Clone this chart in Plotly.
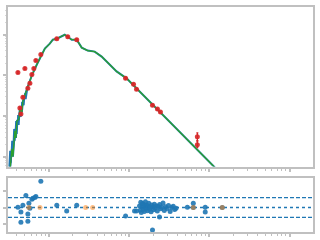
import plotly.graph_objects as go
import math

# ---------------- data ----------------
# model SED (green)
model_wl = [0.03277, 0.03471, 0.03571, 0.03781, 0.03891, 0.04005, 0.04240, 0.04362, 0.04619,
            0.04753, 0.05329, 0.06148, 0.07095, 0.08185, 0.08921, 0.1029, 0.1121, 0.1257,
            0.1410, 0.1580, 0.1722, 0.1931, 0.2227, 0.2570, 0.3051, 0.3727, 0.4553, 0.5727,
            0.6237, 0.6995, 0.9309, 14.10]
model_flux = [4.56e-13, 1.567e-12, 1.0e-12, 4.307e-12, 2.906e-12, 7.551e-12, 8.449e-12, 1.482e-11,
              1.252e-11, 2.322e-11, 4.557e-11, 1.0e-10, 1.854e-10, 3.44e-10, 4.557e-10, 6.031e-10,
              7.551e-10, 7.988e-10, 8.936e-10, 1.0e-9, 8.936e-10, 7.551e-10, 7.551e-10, 4.819e-10,
              4.072e-10, 3.849e-10, 2.906e-10, 1.854e-10, 1.658e-10, 1.252e-10, 8.449e-11, 3.76e-13]

# observed UV spectrum (blue)
uv_wl = [0.03184, 0.03277, 0.03373, 0.03471, 0.03571, 0.03675, 0.03781, 0.03891, 0.04005, 0.04120,
         0.04240, 0.04362, 0.04490, 0.04619, 0.04891, 0.05032, 0.05179, 0.05483, 0.05808]
uv_flux = [4.56e-13, 1.400e-12, 7.14e-13, 2.456e-12, 1.252e-12, 4.819e-12, 2.456e-12, 7.551e-12,
           3.639e-12, 1.058e-11, 6.031e-12, 1.658e-11, 9.454e-12, 2.196e-11, 1.854e-11, 3.639e-11,
           2.598e-11, 5.390e-11, 6.380e-11]

# photometry (red)
phot_wl = [0.04120, 0.05032, 0.06895, 0.06510, 0.07955, 0.06148, 0.05808, 0.05483, 0.04753, 0.04362,
           0.04490, 0.1257, 0.1722, 0.2227, 0.9048, 1.137, 1.239, 1.958, 2.259, 2.462, 7.094, 7.094]
phot_flux = [1.183e-10, 1.482e-10, 2.322e-10, 1.482e-10, 3.252e-10, 1.058e-10, 6.380e-11, 4.819e-11,
             2.906e-11, 1.567e-11, 1.119e-11, 7.988e-10, 8.936e-10, 7.551e-10, 8.449e-11, 6.031e-11,
             4.557e-11, 1.854e-11, 1.482e-11, 1.252e-11, 3.074e-12, 1.962e-12]
phot_err_up = [f * 0.05 for f in phot_flux[:-2]] + [0.78e-12, 0.49e-12]
phot_err_dn = [f * 0.05 for f in phot_flux[:-2]] + [0.62e-12, 0.30e-12]

# residuals (blue)
res_wl = [0.04120, 0.04490, 0.04490, 0.04753, 0.05179, 0.05483, 0.05483, 0.05645, 0.05808, 0.06148,
          0.06325, 0.06700, 0.06895, 0.07955, 0.1257, 0.1670, 0.2227, 0.9048, 1.171, 1.239, 1.958,
          2.393, 5.33, 6.32, 6.32, 8.90, 8.90, 14.5,
          1.35, 1.38, 1.40, 1.42, 1.45, 1.47, 1.50, 1.53, 1.55, 1.58, 1.60, 1.63, 1.66, 1.70, 1.73,
          1.76, 1.80, 1.84, 1.88, 1.92, 1.97, 2.02, 2.07, 2.12, 2.18, 2.25, 2.32, 2.40, 2.48, 2.56,
          2.65, 2.75, 2.85, 2.97, 3.10, 3.25, 3.40, 3.55, 3.70, 3.85]
res_val = [0.1, -1.4, -4.5, 0.7, 3.7, -4.2, -2.0, 1.3, -0.2, 2.5,
           2.8, 3.1, 3.4, 8.0, 0.7, -1.1, 0.7, -2.6, -1.1, -1.1, -6.9,
           -2.9, 0.1, 1.3, 0.0, 0.1, -1.4, 0.0,
           0.5, -0.8, 1.6, -1.5, 0.2, 1.2, -0.6, 0.9, -1.2, 0.3, 1.8, -0.3, 0.7, -1.0, 0.4,
           1.3, -0.5, 0.1, -1.3, 0.8, 0.2, -0.7, 1.0, -0.2, 0.5, -1.1, 0.3, 0.9, -0.4, 0.1,
           1.4, -0.9, 0.2, -0.3, 0.6, -1.2, 0.0, 0.4, -0.6, -0.2]

# excluded points (orange)
lim_wl = [0.05645, 0.07763, 0.2877, 0.3517, 6.32, 14.5]
lim_val = [0.0, 0.0, 0.0, 0.0, 0.0, 0.0]

sigma_band = 3.0
x_major = [0.1, 1, 10, 100]
y_major = [1e-12, 1e-11, 1e-10, 1e-9]
res_ticks = [-5, 0, 5]

# ---------------- figure ----------------
BLUE = "#1f77b4"
GREEN = "#2ca02c"
RED = "#d62728"
ORANGE = "#ff7f0e"
AX = "#c0c0c0"

fig = go.Figure()

fig.add_trace(go.Scatter(x=model_wl, y=model_flux, mode="lines",
                         line=dict(color=BLUE, width=2.0), xaxis="x", yaxis="y"))
fig.add_trace(go.Scatter(x=uv_wl, y=uv_flux, mode="lines",
                         line=dict(color=BLUE, width=1.5), xaxis="x", yaxis="y"))
fig.add_trace(go.Scatter(x=model_wl, y=model_flux, mode="lines",
                         line=dict(color=GREEN, width=1.3), xaxis="x", yaxis="y"))
fig.add_trace(go.Scatter(x=phot_wl, y=phot_flux, mode="markers",
                         marker=dict(color=RED, size=5, opacity=0.9),
                         error_y=dict(type="data", array=phot_err_up, arrayminus=phot_err_dn,
                                      color=RED, thickness=1.3, width=1),
                         xaxis="x", yaxis="y"))

x_lo, x_hi = 0.0310, 196.0
for y0, dash in [(sigma_band, "4px,2px"), (-sigma_band, "4px,2px"), (0.0, "dot")]:
    fig.add_trace(go.Scatter(x=[x_lo, x_hi], y=[y0, y0], mode="lines",
                             line=dict(color=BLUE, width=1.3, dash=dash),
                             xaxis="x2", yaxis="y2"))

fig.add_trace(go.Scatter(x=res_wl, y=res_val, mode="markers",
                         marker=dict(color=BLUE, size=5, opacity=0.9),
                         xaxis="x2", yaxis="y2"))
fig.add_trace(go.Scatter(x=lim_wl, y=lim_val, mode="markers",
                         marker=dict(color=ORANGE, size=5, opacity=0.5),
                         xaxis="x2", yaxis="y2"))

minor_x = [m * d for d in [0.01, 0.1, 1, 10, 100] for m in range(2, 10)]
minor_y = [m * d for d in [1e-13, 1e-12, 1e-11, 1e-10, 1e-9] for m in range(2, 10)]

xr = [math.log10(x_lo), math.log10(x_hi)]

common_x = dict(type="log", range=xr, showgrid=False, zeroline=False, showline=True,
                linecolor=AX, linewidth=2, mirror=True, showticklabels=False,
                ticks="outside", ticklen=3, tickwidth=2, tickcolor=AX, tickvals=x_major,
                minor=dict(tickvals=minor_x, ticks="outside", ticklen=2, tickwidth=1,
                           tickcolor=AX, showgrid=False))

fig.update_layout(
    width=320, height=240,
    margin=dict(l=8, r=6, t=5, b=8),
    paper_bgcolor="white", plot_bgcolor="white",
    showlegend=False,
    xaxis=dict(common_x, anchor="y"),
    yaxis=dict(type="log", range=[-12.244, -8.317], domain=[0.2907, 1.0], showgrid=False,
               zeroline=False, showline=True, linecolor=AX, linewidth=2, mirror=True,
               showticklabels=False, ticks="outside", ticklen=3, tickwidth=2, tickcolor=AX,
               tickvals=y_major,
               minor=dict(tickvals=minor_y, ticks="outside", ticklen=1.5, tickwidth=1,
                          tickcolor="#d8d8d8", showgrid=False)),
    xaxis2=dict(common_x, anchor="y2"),
    yaxis2=dict(range=[-7.48, 8.88], domain=[0.0, 0.2379], showgrid=False, zeroline=False,
                showline=True, linecolor=AX, linewidth=2, mirror=True, showticklabels=False,
                ticks="outside", ticklen=3, tickwidth=2, tickcolor=AX, tickvals=res_ticks),
)

fig.write_html("out.html")
